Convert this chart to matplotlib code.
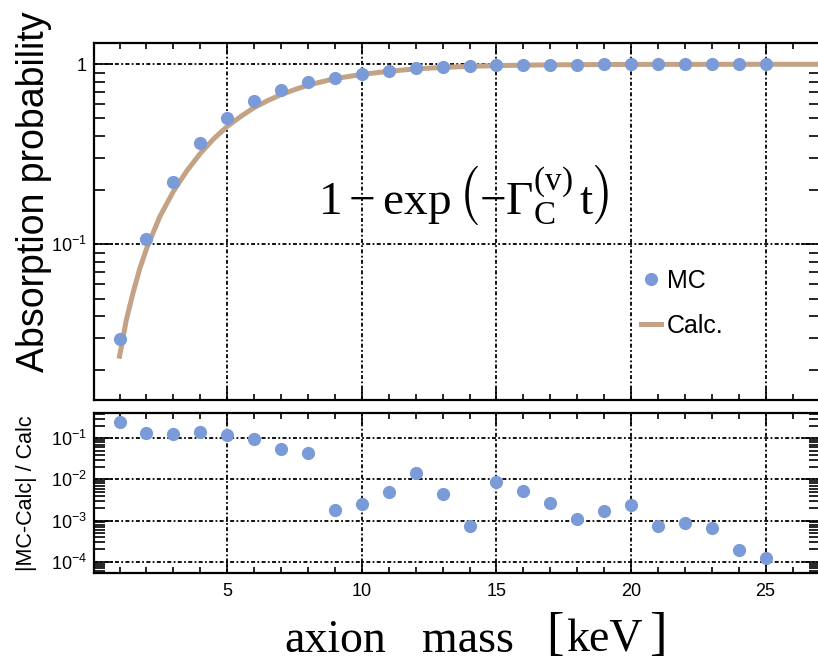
import numpy as np
import matplotlib
matplotlib.use('Agg')
import matplotlib.pyplot as plt
from matplotlib.ticker import MultipleLocator, LogLocator, NullFormatter, FixedLocator

plt.rcParams['font.family'] = ['Liberation Sans', 'DejaVu Sans']
plt.rcParams['mathtext.fontset'] = 'custom'
plt.rcParams['mathtext.rm'] = 'Liberation Serif'
plt.rcParams['mathtext.it'] = 'Liberation Serif'
plt.rcParams['mathtext.sf'] = 'Liberation Sans'

# values
mass = [1, 2, 3, 4, 5, 6, 7, 8, 9, 10, 11, 12, 13, 14, 15, 16, 17, 18, 19,
        20, 21, 22, 23, 24, 25]
mc = [0.0298, 0.1067, 0.222, 0.366, 0.506, 0.629, 0.716, 0.800, 0.835,
      0.880, 0.919, 0.956, 0.965, 0.975, 0.991, 0.994, 0.996, 0.996, 0.999,
      1.000, 0.999, 0.999, 0.999, 0.999, 1.000]
calc_mass = [1, 1.25, 1.5, 1.75, 2, 2.5, 3, 3.5, 4, 4.5, 5, 5.5, 6, 6.5, 7,
             7.5, 8, 9, 10, 11, 12, 13, 14, 15, 16, 17, 18, 19, 20, 21, 22,
             23, 24, 25, 26, 27]
calc = [0.0239, 0.038, 0.0537, 0.0733, 0.0944, 0.143, 0.197, 0.256, 0.320,
        0.386, 0.452, 0.513, 0.575, 0.628, 0.679, 0.723, 0.766, 0.833,
        0.878, 0.915, 0.943, 0.961, 0.974, 0.983, 0.989, 0.993, 0.995, 0.997,
        0.998, 0.999, 0.999, 0.999, 1.0, 1.0, 1.0, 1.0]
resid = [0.245, 0.132, 0.125, 0.145, 0.120, 0.094, 0.055, 0.045, 0.0018,
         0.0025, 0.0049, 0.014, 0.0045, 0.00072, 0.0085, 0.0051, 0.0026,
         0.0011, 0.0017, 0.00245, 0.00074, 0.00089, 0.00065, 0.000195,
         0.000122]

blue = '#7b9bd8'
tan = '#c3a285'
grid_ls = (0, (2.2, 1.3, 1, 1.3))

W, H = 818, 664
fig = plt.figure(figsize=(W / 100, H / 100), dpi=100)

def fx(px):
    return px / W

def fy(py):
    return 1 - py / H

ax1 = fig.add_axes([fx(94), fy(399.5), fx(820) - fx(94), fy(43) - fy(399.5)])
ax2 = fig.add_axes([fx(94), fy(573), fx(820) - fx(94), fy(413) - fy(573)])

# top panel
ax1.plot(calc_mass, calc, color=tan, lw=3.6, label='Calc.', zorder=3)
ax1.plot(mass, mc, 'o', color=blue, ms=9.5, mec='none', label='MC', zorder=4)
ax1.set_yscale('log')
ax1.set_xlim(0.05, 27.02)
ax1.set_ylim(0.01374, 1.313)
ax1.yaxis.set_major_locator(FixedLocator([0.1, 1]))
ax1.set_yticklabels([r'$\mathsf{10^{-1}}$', '1'])
ax1.yaxis.set_minor_locator(LogLocator(base=10, subs=np.arange(2, 10), numticks=20))
ax1.yaxis.set_minor_formatter(NullFormatter())
ax1.set_xticklabels([])

# bottom panel
ax2.plot(mass, resid, 'o', color=blue, ms=9.5, mec='none', zorder=4)
ax2.set_yscale('log')
ax2.set_xlim(0.05, 27.02)
ax2.set_ylim(5.3e-5, 0.412)
ax2.yaxis.set_major_locator(FixedLocator([1e-4, 1e-3, 1e-2, 1e-1]))
ax2.set_yticklabels([r'$\mathsf{10^{-4}}$', r'$\mathsf{10^{-3}}$',
                     r'$\mathsf{10^{-2}}$', r'$\mathsf{10^{-1}}$'])
ax2.yaxis.set_minor_locator(LogLocator(base=10, subs=np.arange(2, 10), numticks=20))
ax2.yaxis.set_minor_formatter(NullFormatter())

for ax in (ax1, ax2):
    ax.xaxis.set_major_locator(MultipleLocator(5))
    ax.xaxis.set_minor_locator(MultipleLocator(1))
    ax.grid(which='major', color='k', linestyle=grid_ls, linewidth=1.3, zorder=1)
    ax.tick_params(which='both', direction='in', top=True, right=True,
                   width=1.2, labelsize=13, colors='k')
    ax.tick_params(axis='x', which='major', length=8, pad=7)
    ax.tick_params(axis='x', which='minor', length=4)
    ax.tick_params(axis='y', which='major', length=14, pad=5)
    ax.tick_params(axis='y', which='minor', length=8)
    for s in ax.spines.values():
        s.set_linewidth(1.6)

leg = ax1.legend(handles=ax1.get_lines()[::-1], loc='center left',
                 bbox_to_anchor=(fx(641), fy(303.5)),
                 bbox_transform=fig.transFigure, frameon=False, fontsize=18,
                 handlelength=0.8, handletextpad=0.25, labelspacing=0.85,
                 borderpad=0, borderaxespad=0, numpoints=1)

ax1.text(fx(464), fy(195),
         r'$1-\exp\left(-\Gamma_{\mathrm{C}}^{(\mathrm{v})}\,\mathrm{t}\right)$',
         transform=fig.transFigure, ha='center', va='center', fontsize=34)

fig.text(fx(34), fy(192), 'Absorption probability', rotation=90,
         ha='center', va='center', fontsize=27)
fig.text(fx(27), fy(493), '|MC-Calc| / Calc', rotation=90,
         ha='center', va='center', fontsize=15.5)

# x axis title, pieces placed like the reference
serif = 'Liberation Serif'
base = fy(652)
fig.text(fx(284), base, 'axion', family=serif, fontsize=33,
         ha='left', va='baseline')
fig.text(fx(422), base, 'mass', family=serif, fontsize=33,
         ha='left', va='baseline')
fig.text(fx(566), base, 'keV', family=serif, fontsize=33,
         ha='left', va='baseline')
fig.text(fx(555), fy(636), '[', family=serif, fontsize=38, fontweight='light',
         ha='center', va='center')
fig.text(fx(658), fy(636), ']', family=serif, fontsize=38, fontweight='light',
         ha='center', va='center')

fig.savefig('out.png', dpi=100)
